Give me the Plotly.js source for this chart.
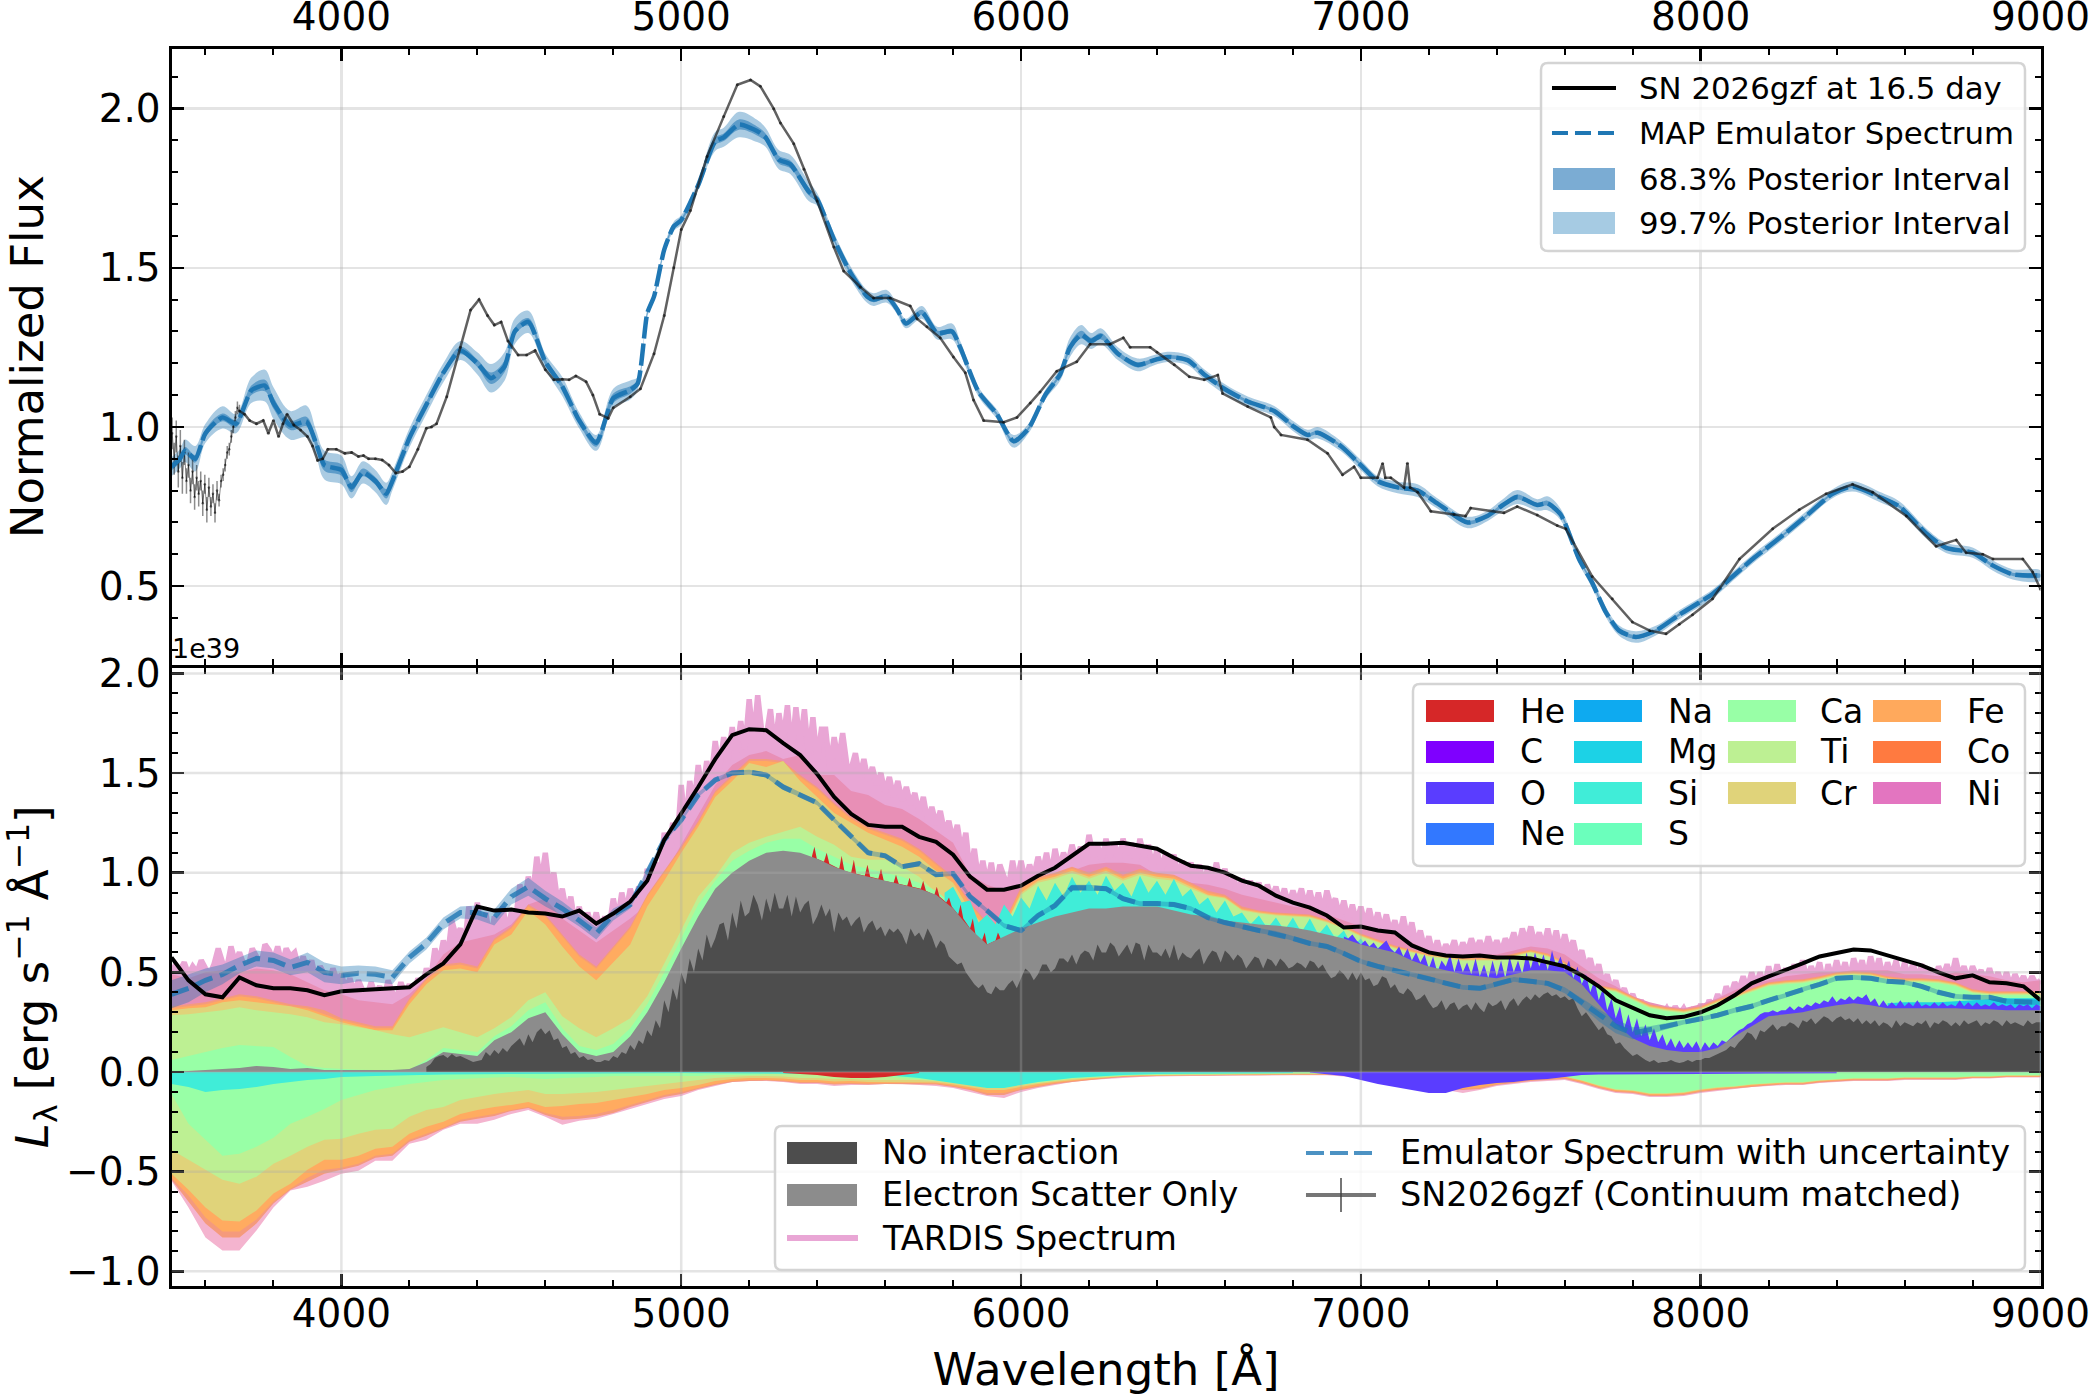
<!DOCTYPE html>
<html>
<head>
<meta charset="utf-8">
<script src="https://cdn.plot.ly/plotly-3.0.1.min.js"></script>
<style>body{margin:0;background:#fff}</style>
</head>
<body>
<div id="plot" style="width:2092px;height:1400px"></div>
<script>
// upper panel: emulator spectrum and its intervals
var emuX = [3500,3525,3540,3570,3600,3650,3690,3735,3775,3800,
  3850,3897,3925,3950,4000,4030,4063,4100,4132,4150,
  4200,4250,4300,4350,4400,4440,4480,4510,4550,4600,
  4650,4700,4750,4800,4850,4872,4900,4920,4950,4978,
  5000,5050,5100,5125,5170,5223,5248,5287,5321,5375,
  5400,5449,5498,5547,5566,5605,5635,5661,5708,5753,
  5797,5821,5875,5929,5978,6022,6071,6115,6144,6177,
  6206,6235,6285,6343,6392,6431,6490,6539,6598,6667,
  6745,6804,6843,6873,6941,7000,7049,7108,7167,7225,
  7314,7372,7412,7460,7519,7549,7588,7642,7681,7720,
  7760,7809,7868,7937,8035,8094,8153,8231,8310,8388,
  8447,8526,8585,8663,8722,8800,8859,8918,9000];
var emuY = [.875,.90,.925,.90,.98,1.03,1.01,1.115,1.13,1.075,
  1.005,1.017,.95,.88,.865,.81,.857,.83,.79,.83,
  .965,1.07,1.17,1.24,1.2,1.153,1.19,1.3,1.33,1.205,
  1.127,1.02,.95,1.09,1.116,1.137,1.357,1.41,1.557,1.63,
  1.65,1.76,1.897,1.91,1.95,1.93,1.91,1.84,1.825,1.74,
  1.715,1.59,1.485,1.41,1.40,1.41,1.37,1.325,1.36,1.295,
  1.30,1.25,1.11,1.04,.955,.995,1.10,1.165,1.25,1.29,
  1.27,1.285,1.23,1.195,1.21,1.22,1.21,1.165,1.12,1.08,
  1.05,1.0,.975,.982,.94,.88,.83,.81,.80,.76,
  .70,.72,.75,.78,.755,.76,.725,.585,.51,.42,
  .36,.34,.36,.41,.475,.53,.585,.65,.72,.79,
  .813,.78,.75,.666,.62,.605,.565,.537,.533];
var band997 = [.03,.03,.035,.04,.03,.035,.03,.04,.05,.05,
  .045,.05,.04,.045,.045,.035,.035,.035,.035,.03,
  .03,.03,.03,.03,.035,.045,.045,.04,.035,.025,
  .03,.025,.025,.03,.03,.02,.012,.012,.012,.015,
  .015,.015,.03,.03,.04,.035,.03,.03,.03,.03,
  .02,.02,.02,.02,.02,.02,.015,.015,.02,.02,
  .025,.02,.015,.015,.02,.015,.015,.02,.03,.03,
  .025,.025,.02,.02,.016,.016,.016,.016,.016,.016,
  .016,.016,.016,.018,.016,.016,.016,.018,.02,.016,
  .018,.016,.018,.022,.018,.022,.018,.016,.016,.016,
  .016,.018,.015,.014,.014,.014,.014,.014,.014,.014,
  .016,.016,.016,.016,.016,.016,.016,.016,.016];
var band683 = [.012,.012,.012,.012,.012,.012,.012,.015,.018,.018,
  .015,.015,.015,.018,.018,.015,.012,.012,.015,.012,
  .01,.01,.01,.012,.012,.018,.018,.012,.012,.01,
  .01,.01,.012,.015,.012,.008,.005,.005,.005,.006,
  .006,.006,.012,.012,.016,.014,.012,.012,.012,.012,
  .008,.006,.006,.008,.008,.008,.006,.006,.008,.008,
  .008,.006,.005,.005,.006,.005,.005,.006,.012,.012,
  .01,.01,.008,.008,.006,.006,.005,.005,.005,.005,
  .005,.005,.005,.006,.005,.005,.005,.006,.007,.005,
  .006,.005,.006,.008,.006,.008,.006,.005,.005,.005,
  .005,.006,.005,.004,.004,.004,.004,.004,.004,.004,
  .005,.005,.005,.005,.005,.005,.005,.005,.005];

// upper panel: observed spectrum, noisy blue end with error bars
var obsBlueX = [3502,3508,3514,3520,3526,3532,3538,3544,3550,3556,3562,3568,3574,3580,3586,3592,3598,3604,3610,3616,3622,3628,3634,3640,3646,3652,3658,3664,3670,3676,3682,3688,3694,3700];
var obsBlueY = [.98,.90,.97,.86,.94,.84,.92,.83,.88,.80,.86,.78,.84,.79,.83,.76,.82,.74,.81,.75,.79,.73,.80,.77,.83,.85,.88,.92,.93,.97,1.0,1.03,1.06,1.05];
var obsBlueErr = [.05,.05,.05,.05,.05,.05,.04,.04,.04,.04,.04,.04,.04,.04,.03,.04,.03,.04,.03,.03,.03,.03,.03,.02,.02,.02,.02,.02,.02,.02,.02,.02,.02,.02];
var obsX = [3700,3715,3730,3750,3770,3785,3800,3815,3828,3840,3860,3880,3900,3915,3930,3945,3960,3985,4010,4030,4050,4065,4080,4100,4120,4140,4160,4180,4200,4225,4250,4265,4280,4310,4350,4380,4405,4430,4450,4470,4490,4520,4545,4570,4600,4625,4650,4670,4690,4720,4740,4760,4785,4800,4850,4880,4920,4950,4978,5000,5027,5076,5125,5165,5204,5233,5272,5292,5331,5361,5400,5449,5478,5527,5566,5615,5674,5694,5723,5762,5801,5836,5860,5890,5949,5988,6027,6056,6105,6164,6203,6262,6301,6321,6380,6400,6451,6495,6539,6579,6593,6667,6735,6745,6765,6843,6902,6946,6980,7000,7049,7064,7072,7088,7127,7137,7145,7167,7206,7274,7308,7323,7421,7460,7519,7578,7603,7681,7740,7799,7850,7898,7937,7976,8035,8114,8212,8290,8369,8447,8506,8605,8693,8752,8781,8830,8860,8948,8977,9000];
var obsY = [1.05,1.04,1.02,1.01,1.02,.98,1.02,.97,1.01,1.04,1.006,.99,.97,.94,.895,.90,.93,.93,.917,.92,.907,.91,.90,.90,.896,.88,.855,.86,.875,.93,.996,1.0,1.01,1.095,1.25,1.367,1.40,1.35,1.32,1.33,1.27,1.226,1.226,1.24,1.18,1.148,1.15,1.148,1.16,1.142,1.10,1.04,1.027,1.06,1.095,1.12,1.23,1.35,1.50,1.62,1.68,1.85,1.975,2.075,2.09,2.07,2.0,1.955,1.89,1.81,1.71,1.565,1.49,1.44,1.405,1.405,1.38,1.34,1.315,1.28,1.22,1.17,1.085,1.02,1.015,1.03,1.075,1.11,1.175,1.205,1.26,1.26,1.28,1.25,1.25,1.235,1.195,1.158,1.148,1.163,1.105,1.064,1.03,1.0,.975,.96,.917,.85,.875,.84,.84,.885,.84,.84,.81,.886,.81,.795,.735,.725,.72,.745,.73,.75,.723,.69,.68,.53,.46,.387,.36,.35,.38,.41,.46,.585,.68,.74,.79,.82,.795,.72,.625,.645,.605,.60,.585,.585,.544,.49];

// lower panel wavelength grids
function wavelengths(from, to, step) {
  var out = [];
  for (var w = from; w <= to; w += step) out.push(w);
  return out;
}
var gridX = wavelengths(3500, 9000, 50);
var tardisX = wavelengths(3500, 9000, 12.5);
var noInteractionX = wavelengths(4250, 9000, 12.5);
var oX = wavelengths(6950, 9000, 12.5);
var siX = wavelengths(5775, 7050, 25);

// cumulative tops of the packet contributions
var noInteraction = [.025,.04,.07,.08,.085,.07,.09,.075,.08,.07,
  .06,.05,.055,.06,.10,.08,.11,.09,.12,.10,
  .13,.15,.17,.13,.19,.15,.20,.22,.19,.21,
  .16,.17,.12,.13,.09,.10,.07,.08,.06,.065,
  .05,.05,.06,.055,.08,.07,.10,.09,.135,.11,
  .16,.14,.21,.18,.26,.22,.36,.30,.42,.36,
  .50,.44,.57,.50,.62,.56,.69,.62,.67,.74,
  .75,.66,.80,.72,.86,.78,.80,.89,.84,.76,
  .87,.80,.90,.82,.82,.89,.78,.88,.80,.84,
  .86,.74,.78,.84,.78,.82,.70,.80,.76,.78,
  .73,.76,.78,.70,.74,.76,.71,.73,.68,.72,
  .70,.72,.69,.64,.72,.68,.70,.66,.72,.68,
  .62,.66,.64,.58,.56,.54,.55,.50,.47,.44,
  .42,.44,.40,.39,.43,.41,.41,.44,.46,.42,
  .47,.52,.50,.46,.49,.54,.54,.50,.52,.57,
  .57,.55,.59,.54,.59,.61,.60,.56,.64,.60,
  .60,.65,.63,.58,.61,.64,.59,.65,.64,.56,
  .64,.60,.60,.58,.62,.57,.64,.56,.60,.58,
  .57,.60,.62,.54,.58,.61,.60,.55,.61,.59,
  .56,.59,.57,.52,.55,.58,.57,.52,.57,.56,
  .53,.57,.55,.52,.53,.55,.54,.52,.56,.55,
  .52,.54,.50,.47,.48,.51,.49,.46,.50,.46,
  .50,.46,.47,.43,.44,.48,.47,.42,.44,.40,
  .39,.42,.40,.36,.37,.39,.35,.32,.33,.36,
  .31,.34,.35,.31,.33,.34,.31,.35,.32,.30,
  .35,.33,.34,.36,.31,.35,.37,.33,.36,.38,
  .36,.39,.37,.39,.40,.38,.39,.37,.38,.36,
  .37,.32,.28,.30,.27,.24,.21,.23,.19,.18,
  .14,.15,.12,.10,.08,.09,.075,.06,.05,.06,
  .045,.05,.05,.06,.05,.045,.05,.06,.05,.06,
  .06,.07,.07,.08,.09,.10,.11,.13,.12,.15,
  .17,.20,.19,.16,.21,.20,.22,.24,.21,.23,
  .23,.25,.24,.22,.26,.25,.27,.24,.26,.28,
  .27,.25,.27,.28,.26,.27,.25,.27,.24,.26,
  .24,.26,.23,.25,.24,.22,.26,.23,.25,.24,
  .23,.25,.24,.26,.22,.25,.24,.26,.25,.23,
  .25,.23,.26,.24,.25,.26,.23,.25,.24,.26,
  .25,.23,.26,.24,.25,.24,.23,.26,.24,.25,
  .25];
var electronScatter = [0,.005,.01,.015,.02,.03,.025,.015,.02,.01,
  .01,.01,.01,.01,.015,.05,.10,.09,.08,.16,
  .20,.27,.30,.19,.10,.08,.10,.18,.30,.45,
  .62,.78,.92,1.00,1.06,1.10,1.11,1.10,1.07,1.03,
  1.00,.98,.96,.94,.92,.89,.82,.72,.64,.68,
  .72,.75,.78,.80,.82,.82,.83,.83,.83,.81,
  .79,.78,.76,.75,.74,.735,.725,.71,.69,.67,
  .64,.62,.60,.56,.53,.51,.49,.48,.47,.49,
  .51,.51,.50,.44,.34,.24,.17,.13,.11,.10,
  .10,.12,.18,.23,.28,.29,.30,.32,.335,.345,
  .335,.32,.32,.32,.32,.32,.315,.315,.31,.31,
  .31];
var heX = [5385,5392,5399,5420,5428,5436,5465,5472,5480,5500,5508,5515,5540,5548,5556,5580,5588,5596,5625,5632,5640,5665,5672,5680,5705,5712,5720,5745,5752,5760,5780,5788,5796,5815,5822,5830,5850,5858,5866,5885,5893,5900,5925,5932,5940];
var heTop = [1.085,1.13,1.07,1.055,1.10,1.045,1.02,1.085,1.01,1.0,1.065,.995,.985,1.04,.98,.97,1.02,.96,.95,.99,.945,.935,.975,.93,.92,.96,.91,.89,.93,.88,.85,.875,.83,.79,.84,.77,.72,.77,.69,.66,.70,.64,.66,.70,.67];
var oTop = [.68,.67,.69,.66,
  .64,.66,.63,.65,.62,.64,.66,.62,
  .60,.63,.58,.62,.56,.60,.55,.59,
  .52,.58,.50,.56,.53,.59,.50,.57,
  .50,.55,.49,.57,.48,.54,.47,.56,
  .48,.56,.47,.58,.50,.56,.49,.60,
  .52,.60,.53,.59,.51,.61,.53,.58,
  .51,.56,.47,.53,.44,.49,.40,.46,
  .36,.42,.31,.37,.27,.33,.22,.29,
  .20,.27,.18,.24,.16,.22,.15,.19,
  .13,.17,.12,.16,.12,.15,.12,.155,
  .11,.15,.12,.15,.13,.16,.15,.17,
  .19,.21,.22,.24,.25,.27,.29,.30,
  .30,.31,.30,.31,.31,.33,.31,.33,
  .32,.34,.33,.35,.34,.36,.35,.38,
  .35,.37,.36,.38,.36,.38,.37,.39,
  .35,.37,.33,.36,.33,.35,.33,.36,
  .33,.35,.33,.36,.33,.34,.33,.35,
  .33,.35,.33,.34,.33,.36,.33,.35,
  .33,.35,.33,.34,.33,.35,.33,.34,
  .33,.34,.32,.34,.33,.34,.32,.34,
  .33];
var mgX = [8550,8600,8650,8700,8750,8800,8850,8900,8950,9000];
var mgTop = [.345,.35,.35,.35,.355,.36,.365,.37,.37,.37];
var siTop = [.90,.93,.85,.86,.75,.79,.74,.84,.78,.875,
  .82,.935,.86,.95,.88,.98,.90,.96,.89,.985,
  .91,.95,.88,.985,.90,.96,.89,.97,.88,.92,
  .84,.875,.80,.86,.78,.80,.74,.785,.72,.775,
  .71,.775,.70,.77,.69,.74,.67,.71,.63,.67,
  .60,.62];
var caTop = [.06,.08,.10,.12,.135,.13,.125,.075,.03,.02,
  .015,.012,.01,.01,.012,.06,.12,.11,.10,.18,
  .23,.31,.35,.22,.13,.11,.14,.22,.34,.50,
  .67,.84,.96,1.06,1.11,1.15,1.17,1.17,1.12,1.08,
  1.04,1.02,1.0,.98,.95,.91,.84,.73,.65,.69,
  .73,.76,.79,.81,.83,.83,.84,.84,.84,.82,
  .80,.79,.77,.76,.75,.74,.73,.72,.70,.68,
  .65,.63,.61,.57,.54,.52,.50,.49,.48,.50,
  .52,.52,.51,.47,.42,.40,.36,.32,.305,.295,
  .31,.345,.37,.40,.43,.44,.445,.46,.48,.485,
  .48,.46,.45,.45,.445,.43,.395,.385,.385,.385,
  .385];
var tiTop = [.285,.29,.30,.31,.325,.31,.30,.29,.275,.25,
  .24,.225,.21,.19,.175,.20,.225,.20,.175,.22,
  .275,.36,.40,.28,.22,.175,.22,.27,.38,.545,
  .71,.88,.98,1.10,1.15,1.18,1.205,1.23,1.18,1.14,
  1.08,1.065,1.065,1.03,.98,.90,.83,.73,.68,.72,
  .89,.95,.97,1.0,.97,1.0,.96,.99,.97,.96,
  .92,.885,.87,.81,.795,.785,.78,.775,.75,.72,
  .68,.65,.62,.60,.58,.57,.56,.56,.56,.58,
  .60,.58,.54,.48,.42,.405,.365,.325,.31,.30,
  .315,.35,.375,.405,.435,.445,.45,.465,.485,.49,
  .485,.465,.455,.455,.45,.435,.40,.39,.39,.39,
  .39];
var crTop = [.31,.32,.325,.35,.36,.35,.34,.33,.31,.28,
  .25,.23,.21,.21,.34,.44,.51,.52,.50,.64,
  .69,.81,.74,.63,.53,.46,.55,.64,.83,.96,
  1.10,1.23,1.38,1.46,1.55,1.53,1.56,1.46,1.38,1.30,
  1.25,1.20,1.165,1.13,1.08,1.01,.95,.81,.72,.72,
  .90,.96,.98,1.01,.98,1.01,.97,1.0,.98,.97,
  .93,.89,.875,.815,.80,.79,.785,.78,.755,.725,
  .685,.655,.625,.605,.585,.575,.565,.565,.565,.585,
  .605,.585,.545,.485,.425,.41,.37,.33,.315,.305,
  .32,.355,.38,.41,.44,.45,.455,.47,.49,.495,
  .49,.47,.46,.46,.455,.44,.405,.395,.395,.395,
  .395];
var feTop = [.32,.33,.34,.36,.38,.37,.35,.33,.32,.29,
  .26,.24,.22,.22,.36,.46,.53,.54,.52,.66,
  .72,.83,.78,.68,.58,.52,.62,.72,.88,1.0,
  1.12,1.25,1.40,1.48,1.56,1.56,1.55,1.48,1.42,1.34,
  1.27,1.22,1.19,1.16,1.11,1.04,.97,.84,.74,.74,
  .92,.97,.99,1.02,.99,1.02,.98,1.01,.99,.98,
  .94,.90,.88,.82,.805,.795,.79,.785,.76,.73,
  .69,.66,.63,.61,.59,.58,.57,.57,.57,.59,
  .61,.59,.55,.49,.43,.415,.375,.335,.32,.31,
  .325,.36,.385,.415,.445,.455,.46,.475,.495,.50,
  .495,.475,.465,.465,.46,.445,.41,.40,.40,.40,
  .40];
var coTop = [.33,.34,.35,.37,.39,.38,.36,.34,.33,.31,
  .27,.25,.23,.23,.37,.47,.54,.55,.53,.67,
  .73,.84,.79,.69,.59,.53,.63,.73,.89,1.01,
  1.13,1.26,1.41,1.49,1.57,1.57,1.56,1.49,1.43,1.35,
  1.28,1.23,1.20,1.17,1.12,1.05,.98,.85,.75,.75,
  .93,.98,1.0,1.03,1.0,1.03,.99,1.02,1.0,.99,
  .95,.91,.89,.83,.81,.80,.795,.79,.765,.735,
  .695,.665,.635,.615,.595,.585,.575,.575,.575,.595,
  .615,.595,.555,.495,.435,.42,.38,.34,.325,.315,
  .33,.365,.39,.42,.45,.46,.465,.48,.50,.505,
  .50,.48,.47,.47,.465,.45,.415,.405,.405,.405,
  .405];
var niTop = [.49,.47,.50,.51,.50,.52,.51,.49,.45,.41,
  .39,.36,.35,.34,.39,.47,.59,.65,.67,.69,
  .74,.84,.87,.77,.71,.65,.71,.77,.84,.99,
  1.14,1.29,1.44,1.54,1.59,1.61,1.57,1.59,1.49,1.49,
  1.41,1.39,1.34,1.32,1.27,1.21,1.15,.99,.94,.91,
  .94,.97,.99,1.01,1.04,1.05,1.05,1.04,.99,.97,
  .95,.94,.92,.89,.87,.85,.83,.82,.79,.76,
  .73,.71,.69,.65,.61,.57,.59,.59,.59,.61,
  .63,.62,.59,.53,.47,.43,.38,.35,.33,.32,
  .34,.37,.41,.44,.46,.48,.49,.50,.50,.51,
  .51,.51,.49,.49,.48,.50,.49,.48,.46,.45,
  .46];
var tardis = [.50,.54,.51,.55,.49,.53,.50,.56,.52,.49,
  .54,.62,.55,.52,.63,.55,.60,.54,.52,.62,
  .58,.53,.64,.61,.56,.63,.54,.62,.58,.60,
  .52,.58,.50,.56,.46,.53,.49,.44,.52,.46,
  .49,.42,.47,.40,.46,.41,.38,.45,.39,.43,
  .37,.46,.40,.37,.45,.39,.44,.38,.47,.42,
  .52,.46,.62,.55,.66,.58,.76,.68,.72,.64,
  .83,.72,.85,.70,.80,.66,.78,.72,.83,.70,
  .80,.76,.94,.84,.98,.88,1.08,.95,1.10,.92,
  1.0,.84,.92,.80,.88,.74,.83,.70,.80,.72,
  .80,.70,.78,.72,.87,.76,.90,.80,.92,.84,
  .93,.84,1.02,.92,1.05,.98,1.2,1.08,1.25,1.14,
  1.44,1.22,1.46,1.34,1.54,1.40,1.56,1.46,1.66,1.52,
  1.68,1.56,1.73,1.60,1.76,1.62,1.87,1.66,1.89,1.70,
  1.68,1.82,1.62,1.80,1.66,1.84,1.60,1.83,1.64,1.82,
  1.58,1.78,1.56,1.72,1.72,1.52,1.68,1.56,1.70,1.54,
  1.52,1.60,1.48,1.57,1.46,1.53,1.44,1.50,1.40,1.48,
  1.38,1.46,1.36,1.43,1.34,1.40,1.30,1.38,1.26,1.33,
  1.24,1.31,1.20,1.26,1.16,1.24,1.10,1.20,1.00,1.12,
  .96,1.06,.94,1.05,.92,1.04,.98,.92,1.06,.95,
  1.06,.96,1.04,.98,1.08,1.0,1.10,.98,1.12,1.02,
  1.10,1.04,1.14,1.06,1.13,1.05,1.19,1.08,1.14,1.06,
  1.17,1.08,1.15,1.06,1.17,1.09,1.15,1.05,1.17,1.08,
  1.14,1.02,1.12,1.0,1.10,1.03,1.09,.98,1.06,.99,
  1.05,.96,1.04,.94,1.03,.96,1.05,.94,1.02,.92,
  .98,.90,.97,.88,.96,.89,.95,.86,.94,.87,
  .93,.85,.92,.84,.91,.85,.92,.83,.91,.82,
  .90,.80,.91,.83,.87,.78,.86,.76,.84,.75,
  .83,.74,.82,.72,.80,.71,.79,.70,.76,.68,
  .78,.67,.75,.64,.71,.62,.68,.59,.66,.58,
  .64,.60,.66,.58,.65,.60,.67,.61,.66,.60,
  .68,.61,.66,.60,.67,.63,.70,.62,.72,.65,
  .73,.64,.70,.63,.72,.62,.71,.60,.69,.60,
  .66,.56,.61,.52,.57,.48,.54,.44,.49,.41,
  .46,.38,.42,.36,.39,.33,.36,.30,.34,.29,
  .33,.29,.32,.28,.33,.29,.32,.28,.31,.29,
  .34,.30,.36,.33,.39,.34,.43,.38,.45,.41,
  .48,.42,.50,.44,.50,.43,.53,.44,.54,.46,
  .52,.45,.54,.47,.56,.46,.53,.48,.55,.44,
  .54,.47,.56,.48,.55,.46,.57,.50,.56,.47,
  .58,.49,.57,.47,.55,.48,.56,.46,.55,.47,
  .55,.46,.54,.47,.52,.45,.53,.48,.54,.47,
  .57,.48,.53,.46,.53,.48,.51,.46,.52,.45,
  .50,.44,.50,.43,.49,.44,.48,.43,.48,.44,
  .46];

// negative side, 50 A grid down to 5700, then the lines that still absorb
var negSiX = [3500,3550,3600,3650,3700,3750,3800,3850,3900,3950,4000,4100,4200,4300,4500,5000,5500,5600,5700,5800,5850,5900,5950,6000,6050,6100,6150,6200,6300,6400,6600,6800];
var negSi = [-.06,-.075,-.10,-.09,-.085,-.075,-.06,-.05,-.04,-.035,-.025,-.02,-.015,-.012,-.01,-.005,-.01,-.015,-.03,-.055,-.07,-.08,-.08,-.065,-.05,-.04,-.03,-.025,-.015,-.01,-.007,-.005];
var negCa = [-.11,-.26,-.34,-.42,-.41,-.375,-.33,-.26,-.225,-.185,
  -.14,-.115,-.09,-.075,-.06,-.05,-.04,-.035,-.03,-.028,
  -.025,-.03,-.035,-.03,-.028,-.025,-.02,-.02,-.02,-.02,
  -.02,-.02,-.015,-.015,-.015,-.01,-.01,-.01,-.012,-.015,
  -.018,-.02,-.025,-.03,-.035,-.04,-.05,-.06,-.075,-.075,
  -.06,-.05,-.04,-.03,-.025,-.02,-.015,-.012,-.012,-.01,
  -.01,-.01,-.008,-.008,-.008,-.006,-.006,-.006,-.006,-.01,
  -.01,-.01,-.01,-.01,-.01,-.01,-.01,-.01,-.01,-.01,
  -.01,-.015,-.02,-.04,-.065,-.085,-.09,-.105,-.105,-.10,
  -.085,-.075,-.07,-.06,-.055,-.05,-.05,-.04,-.035,-.03,
  -.03,-.03,-.025,-.025,-.025,-.025,-.02,-.02,-.015,-.015,
  -.015];
var negTi = [-.39,-.44,-.49,-.54,-.56,-.525,-.46,-.42,-.375,-.34,
  -.335,-.31,-.29,-.285,-.225,-.19,-.175,-.14,-.125,-.11,
  -.10,-.09,-.11,-.11,-.105,-.10,-.09,-.08,-.07,-.06,
  -.05,-.04,-.03,-.025,-.02,-.02,-.022,-.03,-.03,-.035,
  -.035,-.04,-.04,-.04,-.04,-.045,-.055,-.065,-.08,-.08,
  -.065,-.055,-.045,-.035,-.03,-.025,-.018,-.015,-.014,-.012,
  -.012,-.012,-.01,-.01,-.01,-.008,-.008,-.008,-.008,-.012,
  -.012,-.012,-.012,-.012,-.012,-.012,-.012,-.012,-.012,-.012,
  -.012,-.017,-.022,-.042,-.068,-.088,-.093,-.108,-.108,-.103,
  -.088,-.078,-.072,-.062,-.057,-.052,-.052,-.042,-.037,-.032,
  -.032,-.032,-.027,-.027,-.027,-.027,-.022,-.022,-.017,-.017,
  -.017];
var negCr = [-.51,-.59,-.68,-.745,-.75,-.695,-.61,-.56,-.49,-.44,
  -.44,-.42,-.385,-.375,-.31,-.275,-.25,-.21,-.19,-.175,
  -.165,-.15,-.175,-.17,-.16,-.155,-.14,-.125,-.11,-.09,
  -.08,-.065,-.045,-.035,-.03,-.03,-.033,-.04,-.04,-.047,
  -.045,-.05,-.05,-.05,-.05,-.052,-.062,-.075,-.09,-.09,
  -.075,-.06,-.05,-.04,-.033,-.028,-.02,-.017,-.016,-.014,
  -.014,-.014,-.012,-.012,-.012,-.01,-.01,-.01,-.01,-.014,
  -.014,-.014,-.014,-.014,-.014,-.014,-.014,-.014,-.014,-.014,
  -.014,-.019,-.024,-.044,-.07,-.09,-.095,-.11,-.11,-.105,
  -.09,-.08,-.074,-.064,-.059,-.054,-.054,-.044,-.039,-.034,
  -.034,-.034,-.029,-.029,-.029,-.029,-.024,-.024,-.019,-.019,
  -.019];
var negFe = [-.53,-.62,-.73,-.80,-.80,-.74,-.65,-.585,-.53,-.49,
  -.48,-.46,-.42,-.41,-.34,-.31,-.28,-.24,-.225,-.21,
  -.19,-.175,-.205,-.225,-.22,-.21,-.19,-.165,-.14,-.115,
  -.10,-.08,-.06,-.045,-.04,-.04,-.043,-.05,-.05,-.058,
  -.055,-.058,-.055,-.055,-.055,-.058,-.07,-.085,-.105,-.105,
  -.085,-.07,-.055,-.045,-.037,-.03,-.023,-.02,-.018,-.016,
  -.016,-.016,-.014,-.014,-.014,-.012,-.012,-.012,-.012,-.016,
  -.02,-.03,-.045,-.055,-.07,-.08,-.085,-.08,-.06,-.05,
  -.04,-.035,-.03,-.05,-.075,-.095,-.10,-.115,-.115,-.11,
  -.095,-.085,-.078,-.068,-.063,-.058,-.058,-.048,-.043,-.038,
  -.038,-.038,-.033,-.033,-.033,-.033,-.028,-.028,-.023,-.023,
  -.023];
var negCo = [-.54,-.65,-.76,-.83,-.83,-.76,-.66,-.59,-.55,-.51,
  -.49,-.47,-.43,-.42,-.35,-.32,-.285,-.25,-.235,-.22,
  -.195,-.18,-.215,-.24,-.235,-.225,-.205,-.175,-.15,-.125,
  -.11,-.085,-.065,-.05,-.045,-.043,-.048,-.055,-.055,-.063,
  -.06,-.062,-.06,-.06,-.06,-.063,-.075,-.09,-.115,-.115,
  -.09,-.075,-.06,-.05,-.04,-.033,-.025,-.022,-.02,-.018,
  -.018,-.018,-.016,-.016,-.016,-.014,-.014,-.014,-.014,-.018,
  -.022,-.035,-.05,-.06,-.075,-.085,-.09,-.085,-.065,-.055,
  -.045,-.04,-.035,-.055,-.08,-.10,-.105,-.12,-.12,-.115,
  -.10,-.09,-.082,-.072,-.067,-.062,-.062,-.052,-.047,-.042,
  -.042,-.042,-.036,-.036,-.036,-.036,-.03,-.03,-.025,-.025,
  -.025];
var negNi = [-.545,-.68,-.83,-.895,-.895,-.795,-.68,-.595,-.575,-.545,
  -.51,-.495,-.445,-.445,-.36,-.34,-.29,-.26,-.26,-.24,
  -.21,-.19,-.225,-.265,-.245,-.235,-.21,-.185,-.16,-.135,
  -.12,-.09,-.07,-.05,-.045,-.045,-.05,-.06,-.06,-.07,
  -.065,-.065,-.06,-.06,-.065,-.07,-.08,-.10,-.12,-.13,
  -.10,-.08,-.065,-.05,-.04,-.035,-.028,-.025,-.022,-.02,
  -.02,-.02,-.018,-.018,-.018,-.016,-.016,-.016,-.016,-.022,
  -.026,-.04,-.055,-.065,-.08,-.09,-.105,-.09,-.07,-.06,
  -.05,-.045,-.04,-.06,-.085,-.105,-.11,-.125,-.125,-.12,
  -.105,-.095,-.085,-.075,-.07,-.065,-.065,-.055,-.05,-.045,
  -.045,-.045,-.04,-.04,-.04,-.04,-.033,-.033,-.028,-.028,
  -.028];
var negHeX = [5300,5350,5400,5450,5500,5550,5600,5650,5700];
var negHe = [-.005,-.01,-.015,-.025,-.03,-.03,-.025,-.015,-.005];
var negOX = [6850,6900,6950,7000,7050,7100,7150,7200,7250,7300,7350,7400,7450,7500,7550,7600,7650,7700,7750,7800,7850,7900,8000,8200,8400];
var negO = [-.002,-.01,-.02,-.04,-.06,-.075,-.09,-.105,-.105,-.08,-.065,-.055,-.05,-.04,-.035,-.025,-.015,-.012,-.012,-.012,-.012,-.012,-.01,-.008,-.006];

// lower panel lines
var emuLower = [.39,.42,.46,.49,.535,.57,.56,.525,.55,.50,
  .485,.495,.49,.475,.575,.645,.745,.80,.80,.775,
  .88,.93,.87,.82,.76,.695,.79,.84,1.0,1.165,
  1.265,1.39,1.465,1.50,1.505,1.49,1.43,1.39,1.35,1.265,
  1.18,1.10,1.085,1.03,1.045,.99,.995,.88,.81,.735,
  .71,.785,.835,.925,.925,.92,.87,.845,.845,.84,
  .82,.775,.75,.73,.71,.695,.67,.645,.63,.595,
  .555,.53,.51,.49,.47,.445,.425,.42,.44,.465,
  .455,.445,.41,.35,.285,.23,.195,.21,.23,.25,
  .265,.285,.31,.33,.36,.385,.415,.44,.47,.475,
  .47,.455,.45,.43,.40,.38,.375,.375,.355,.35,
  .35];
var emuLowerBand = [.07,.07,.06,.05,.04,.04,.04,.04,.05,.05,
  .045,.04,.04,.035,.03,.03,.03,.03,.035,.04,
  .04,.045,.04,.035,.03,.03,.03,.02,.015,.015,
  .012,.012,.012,.012,.012,.012,.015,.012,.012,.012,
  .012,.012,.012,.012,.012,.012,.012,.012,.012,.012,
  .012,.012,.015,.015,.015,.012,.012,.012,.012,.012,
  .012,.012,.012,.012,.012,.012,.012,.012,.012,.012,
  .012,.012,.012,.012,.012,.012,.012,.012,.012,.012,
  .012,.012,.015,.02,.03,.035,.03,.02,.015,.012,
  .012,.012,.012,.012,.012,.012,.012,.012,.012,.012,
  .012,.012,.012,.012,.012,.012,.012,.012,.012,.012,
  .012];
var obsLower = [.575,.46,.39,.375,.475,.435,.42,.42,.41,.385,
  .405,.41,.42,.42,.425,.49,.545,.64,.83,.81,
  .815,.80,.795,.78,.81,.745,.795,.855,.96,1.165,
  1.295,1.43,1.57,1.69,1.72,1.715,1.65,1.59,1.495,1.38,
  1.295,1.24,1.23,1.23,1.18,1.155,1.09,.98,.915,.915,
  .935,.985,1.025,1.085,1.145,1.145,1.15,1.135,1.12,1.075,
  1.035,1.025,1.0,.96,.935,.885,.85,.825,.785,.725,
  .73,.71,.70,.635,.60,.585,.58,.585,.575,.575,
  .57,.55,.53,.485,.43,.36,.32,.285,.27,.277,
  .30,.335,.385,.445,.48,.51,.545,.58,.60,.615,
  .61,.585,.56,.535,.50,.47,.485,.45,.445,.43,
  .36];

// legend content
var legendTopLabels = ['SN 2026gzf at 16.5 day', 'MAP Emulator Spectrum', '68.3% Posterior Interval', '99.7% Posterior Interval'];
var elementRows = [['He','Na','Ca','Fe'], ['C','Mg','Ti','Co'], ['O','Si','Cr','Ni'], ['Ne','S']];
var elementColors = {He:'#d62728', C:'#7f00ff', O:'#5a3dff', Ne:'#3278ff', Na:'#0eaaf0', Mg:'#1cd2e6',
  Si:'#40edd8', S:'#6bffbc', Ca:'#98ffa6', Ti:'#bdf093', Cr:'#e0d37a', Fe:'#ffa95c', Co:'#ff7a40', Ni:'#e375c0'};
var xMajor = [4000,5000,6000,7000,8000,9000];
var yLowerMajor = [-1,-0.5,0,0.5,1,1.5,2];

var W = 2092, H = 1400;
var lowerRange = [-1.071, 2.027], upperRange = [0.252, 2.189];
var tardisColor = '#e9a6d5';
var traces = [];

function addFill(x, y, color) {
  traces.push({x: x, y: y, xaxis: 'x', yaxis: 'y', mode: 'lines', fill: 'tozeroy', fillcolor: color,
    line: {width: 0}, hoverinfo: 'skip', showlegend: false});
}

// TARDIS line goes first so the contributions sit in front of its comb
traces.push({x: tardisX, y: tardis, xaxis: 'x', yaxis: 'y', mode: 'lines', fill: 'tozeroy', fillcolor: tardisColor,
  line: {color: tardisColor, width: 5.5}, hoverinfo: 'skip', showlegend: false});

// painted from the outermost contribution inwards
addFill(gridX, niTop, '#e88fb6');
addFill(gridX, coTop, '#f59a7c');
addFill(gridX, feTop, '#ffab60');
addFill(gridX, crTop, '#e0d37a');
addFill(gridX, tiTop, '#bdf093');
addFill(gridX, caTop, '#98ffa6');
addFill(mgX, mgTop, elementColors.Mg);
addFill(siX, siTop, elementColors.Si);
addFill(oX, oTop, elementColors.O);
addFill(heX, heTop, elementColors.He);
addFill(gridX, electronScatter, '#8c8c8c');
addFill(noInteractionX, noInteraction, '#4d4d4d');

addFill(gridX, negNi, '#f4b4cf');
addFill(gridX, negCo, '#f59a7c');
addFill(gridX, negFe, '#ffab60');
addFill(gridX, negCr, '#e0d37a');
addFill(gridX, negTi, '#bdf093');
addFill(gridX, negCa, '#98ffa6');
addFill(negSiX, negSi, elementColors.Si);
addFill(negOX, negO, elementColors.O);
addFill(negHeX, negHe, elementColors.He);

function bandOf(x, y, w, color, xa, ya, spline) {
  var xs = x.concat(x.slice().reverse());
  var up = y.map(function (v, i) { return v + w[i]; });
  var lo = y.map(function (v, i) { return v - w[i]; }).reverse();
  traces.push({x: xs, y: up.concat(lo), xaxis: xa, yaxis: ya, mode: 'lines', fill: 'toself', fillcolor: color,
    line: {width: 0, shape: spline ? 'spline' : 'linear'}, hoverinfo: 'skip', showlegend: false});
}

bandOf(gridX, emuLower, emuLowerBand, 'rgba(31,119,180,0.38)', 'x', 'y');
traces.push({x: gridX, y: emuLower, xaxis: 'x', yaxis: 'y', mode: 'lines',
  line: {color: 'rgba(31,119,180,0.8)', width: 5, dash: '18px,8px'}, hoverinfo: 'skip', showlegend: false});
traces.push({x: gridX, y: obsLower, xaxis: 'x', yaxis: 'y', mode: 'lines',
  line: {color: '#000', width: 4}, hoverinfo: 'skip', showlegend: false});

// upper panel
bandOf(emuX, emuY, band997, 'rgba(31,119,180,0.38)', 'x2', 'y2', true);
bandOf(emuX, emuY, band683, 'rgba(31,119,180,0.55)', 'x2', 'y2', true);
traces.push({x: obsBlueX, y: obsBlueY, xaxis: 'x2', yaxis: 'y2', mode: 'lines+markers',
  line: {color: 'rgba(0,0,0,0.45)', width: 1}, marker: {color: 'rgba(0,0,0,0.5)', size: 2.5},
  error_y: {type: 'data', array: obsBlueErr, color: 'rgba(0,0,0,0.45)', thickness: 1.5, width: 0},
  hoverinfo: 'skip', showlegend: false});
traces.push({x: emuX, y: emuY, xaxis: 'x2', yaxis: 'y2', mode: 'lines',
  line: {color: '#1f77b4', width: 4.5, dash: '22px,5px', shape: 'spline', smoothing: 0.6}, hoverinfo: 'skip', showlegend: false});
traces.push({x: obsX, y: obsY, xaxis: 'x2', yaxis: 'y2', mode: 'lines+markers',
  line: {color: 'rgba(30,30,30,0.7)', width: 2.5}, marker: {color: 'rgba(0,0,0,0.55)', size: 3},
  hoverinfo: 'skip', showlegend: false});

// legends are laid out in figure pixels so the boxes sit where the original has them
function px(v) { return +(v / W).toFixed(5); }
function py(v) { return +(1 - v / H).toFixed(5); }

var shapes = [], annotations = [];

// grid of the lower panel runs over the filled areas
xMajor.forEach(function (v) {
  shapes.push({type: 'line', xref: 'x', yref: 'y', x0: v, x1: v, y0: lowerRange[0], y1: lowerRange[1], layer: 'above',
    line: {color: 'rgba(170,170,170,0.32)', width: 2.5}});
});
yLowerMajor.forEach(function (v) {
  shapes.push({type: 'line', xref: 'x', yref: 'y', x0: 3500, x1: 9000, y0: v, y1: v, layer: 'above',
    line: {color: 'rgba(170,170,170,0.32)', width: 2.5}});
});

function legendBox(x0, y0, x1, y1) {
  var r = 7;
  var p = 'M ' + px(x0 + r) + ' ' + py(y0) + ' L ' + px(x1 - r) + ' ' + py(y0) +
    ' Q ' + px(x1) + ' ' + py(y0) + ' ' + px(x1) + ' ' + py(y0 + r) +
    ' L ' + px(x1) + ' ' + py(y1 - r) + ' Q ' + px(x1) + ' ' + py(y1) + ' ' + px(x1 - r) + ' ' + py(y1) +
    ' L ' + px(x0 + r) + ' ' + py(y1) + ' Q ' + px(x0) + ' ' + py(y1) + ' ' + px(x0) + ' ' + py(y1 - r) +
    ' L ' + px(x0) + ' ' + py(y0 + r) + ' Q ' + px(x0) + ' ' + py(y0) + ' ' + px(x0 + r) + ' ' + py(y0) + ' Z';
  shapes.push({type: 'path', xref: 'paper', yref: 'paper', path: p, layer: 'above',
    fillcolor: 'rgba(255,255,255,0.8)', line: {color: '#d4d4d4', width: 2.5}});
}
function swatch(x0, x1, y, color) {
  shapes.push({type: 'rect', xref: 'paper', yref: 'paper', x0: px(x0), x1: px(x1), y0: py(y + 11), y1: py(y - 11),
    layer: 'above', fillcolor: color, line: {width: 0}});
}
function stroke(x0, x1, y, color, width, dash) {
  shapes.push({type: 'line', xref: 'paper', yref: 'paper', x0: px(x0), x1: px(x1), y0: py(y), y1: py(y),
    layer: 'above', line: {color: color, width: width, dash: dash || 'solid'}});
}
function label(text, x, y, size) {
  annotations.push({text: text, xref: 'paper', yref: 'paper', x: px(x), y: py(y), xanchor: 'left', yanchor: 'middle',
    showarrow: false, font: {family: 'DejaVu Sans', size: size, color: '#000'}});
}

var topRows = [88, 133, 179, 223];
legendBox(1541, 63, 2025, 251);
stroke(1552, 1616, topRows[0], '#000', 4);
stroke(1552, 1616, topRows[1], '#1f77b4', 4, '16px,7px');
swatch(1553, 1615, topRows[2], '#7bacd3');
swatch(1553, 1615, topRows[3], '#a6cbe3');
legendTopLabels.forEach(function (t, i) { label(t, 1637, topRows[i], 30.8); });

legendBox(1413, 684, 2025, 866);
var elRowY = [711, 752, 793, 834];
var elSwatchX = [1426, 1574, 1728, 1873];
var elTextX = [1518, 1666, 1818, 1965];
elementRows.forEach(function (row, r) {
  row.forEach(function (name, c) {
    swatch(elSwatchX[c], elSwatchX[c] + 68, elRowY[r], elementColors[name]);
    label(name, elTextX[c], elRowY[r], 33);
  });
});

legendBox(775, 1126, 2025, 1270);
swatch(787, 857, 1153, '#4d4d4d');
swatch(787, 857, 1195, '#8c8c8c');
stroke(787, 858, 1238, tardisColor, 6);
label('No interaction', 880, 1153, 33.5);
label('Electron Scatter Only', 880, 1195, 33.5);
label('TARDIS Spectrum', 880, 1238, 33.5);
stroke(1306, 1374, 1153, 'rgba(31,119,180,0.8)', 4, '18px,6px');
stroke(1306, 1376, 1195, 'rgba(60,60,60,0.7)', 4);
shapes.push({type: 'line', xref: 'paper', yref: 'paper', x0: px(1341), x1: px(1341), y0: py(1178), y1: py(1212),
  layer: 'above', line: {color: 'rgba(60,60,60,0.7)', width: 2}});
label('Emulator Spectrum with uncertainty', 1398, 1153, 33.5);
label('SN2026gzf (Continuum matched)', 1398, 1195, 33.5);

label('1e39', 170, 648, 27);

var axisFont = {family: 'DejaVu Sans', size: 39, color: '#000'};
function xAxisBase() {
  return {range: [3500, 9000], tickmode: 'array', tickvals: xMajor, ticks: 'inside', ticklen: 12, tickwidth: 2.5,
    tickcolor: '#000', showline: true, linewidth: 3, linecolor: '#000', mirror: 'ticks', zeroline: false,
    tickfont: axisFont, tickformat: 'd', layer: 'above traces',
    minor: {tickmode: 'linear', tick0: 3400, dtick: 200, ticks: 'inside', ticklen: 6, tickwidth: 2, tickcolor: '#000', showgrid: false}};
}
function yAxisBase() {
  return {tickmode: 'linear', tick0: 0, dtick: 0.5, tickformat: '.1f', ticks: 'inside', ticklen: 12, tickwidth: 2.5,
    tickcolor: '#000', showline: true, linewidth: 3, linecolor: '#000', mirror: 'ticks', zeroline: false,
    tickfont: axisFont, layer: 'above traces',
    minor: {tickmode: 'linear', tick0: 0, dtick: 0.1, ticks: 'inside', ticklen: 6, tickwidth: 2, tickcolor: '#000', showgrid: false}};
}

var layout = {
  width: W, height: H,
  margin: {l: 0, r: 0, t: 0, b: 0},
  paper_bgcolor: '#fff', plot_bgcolor: '#fff',
  showlegend: false,
  font: {family: 'DejaVu Sans', color: '#000'},
  shapes: shapes,
  annotations: annotations
};
layout.xaxis = Object.assign(xAxisBase(), {domain: [171.5 / W, 2040.5 / W], anchor: 'y', showgrid: false, ticklabelstandoff: -8,
  title: {text: 'Wavelength [Å]', font: {family: 'DejaVu Sans', size: 45}, standoff: 19}});
layout.xaxis2 = Object.assign(xAxisBase(), {domain: [171.5 / W, 2040.5 / W], anchor: 'y2', side: 'top', showgrid: true, ticklabelstandoff: 0,
  gridcolor: 'rgba(170,170,170,0.32)', gridwidth: 2.5});
layout.yaxis = Object.assign(yAxisBase(), {domain: [1 - 1285.5 / H, 1 - 668 / H], anchor: 'x', range: lowerRange, showgrid: false,
  title: {text: '<i>L</i><sub>λ</sub> [erg s<sup>−1</sup> Å<sup>−1</sup>]', font: {family: 'DejaVu Sans', size: 45}, standoff: 22}});
layout.yaxis2 = Object.assign(yAxisBase(), {domain: [1 - 665 / H, 1 - 48.5 / H], anchor: 'x2', range: upperRange, showgrid: true,
  gridcolor: 'rgba(170,170,170,0.32)', gridwidth: 2.5,
  title: {text: 'Normalized Flux', font: {family: 'DejaVu Sans', size: 45}, standoff: 41}});

Plotly.newPlot('plot', traces, layout, {staticPlot: true, displayModeBar: false});
</script>
</body>
</html>
